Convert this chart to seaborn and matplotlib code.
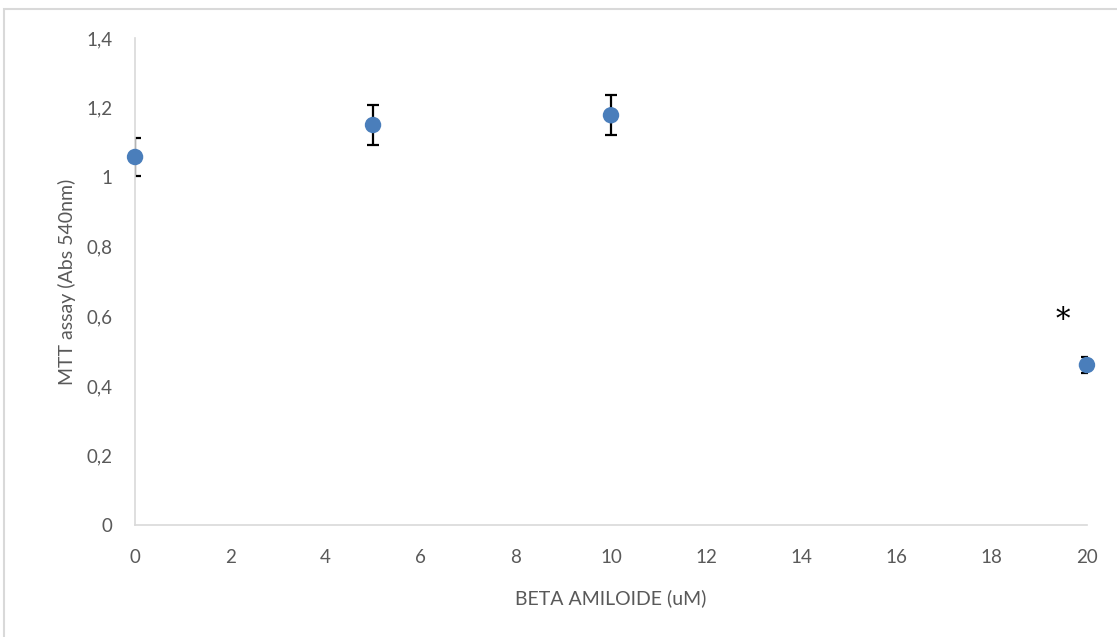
import matplotlib
matplotlib.use('Agg')
import matplotlib.pyplot as plt
import seaborn as sns
import pandas as pd
from matplotlib.patches import Rectangle

# data
dose = [0, 5, 10, 20]
mtt = [1.058, 1.150, 1.178, 0.460]
err = [0.055, 0.057, 0.058, 0.024]
x_ticks = [0, 2, 4, 6, 8, 10, 12, 14, 16, 18, 20]
y_ticks = [0, 0.2, 0.4, 0.6, 0.8, 1.0, 1.2, 1.4]
y_tick_labels = ['0', '0,2', '0,4', '0,6', '0,8', '1', '1,2', '1,4']

df = pd.DataFrame({'dose': dose, 'mtt': mtt, 'err': err})

sns.set_style('white')
plt.rcParams['font.family'] = ['Lato', 'DejaVu Sans']

fig = plt.figure(figsize=(11.17, 6.37), dpi=100)
ax = fig.add_axes([0.1209, 0.1758, 0.8522, 0.7645])

grey = '#595959'
ax.errorbar(df['dose'], df['mtt'], yerr=df['err'], fmt='none',
            ecolor='black', elinewidth=1.6, capsize=4.5, capthick=1.6, zorder=2)
sns.scatterplot(data=df, x='dose', y='mtt', ax=ax, color='#4a7ebb',
                s=140, edgecolor='none', zorder=3, legend=False, clip_on=False)

ax.text(19.5, 0.59, '*', fontsize=21, color='black', ha='center', va='center',
        family='DejaVu Serif')

ax.set_xlim(0, 20)
ax.set_ylim(0, 1.4)
ax.set_xticks(x_ticks)
ax.set_yticks(y_ticks)
ax.set_yticklabels(y_tick_labels)
ax.tick_params(axis='both', length=0, labelsize=13.5, colors=grey)
ax.tick_params(axis='x', pad=17)
ax.tick_params(axis='y', pad=16)
ax.set_xlabel('BETA AMILOIDE (uM)', fontsize=14, color=grey, labelpad=17)
ax.set_ylabel('MTT assay (Abs 540nm)', fontsize=14, color=grey, labelpad=8)

for side in ['top', 'right']:
    ax.spines[side].set_visible(False)
for side in ['left', 'bottom']:
    ax.spines[side].set_color('#d9d9d9')
    ax.spines[side].set_linewidth(1.2)

# outer chart frame (left and top edges visible)
fig.patches.append(Rectangle((4 / 1117, -0.1), 1.2, 1 - 9 / 637 + 0.1,
                             transform=fig.transFigure, fill=False,
                             edgecolor='#d9d9d9', linewidth=1.5))

fig.savefig('out.png', dpi=100)
